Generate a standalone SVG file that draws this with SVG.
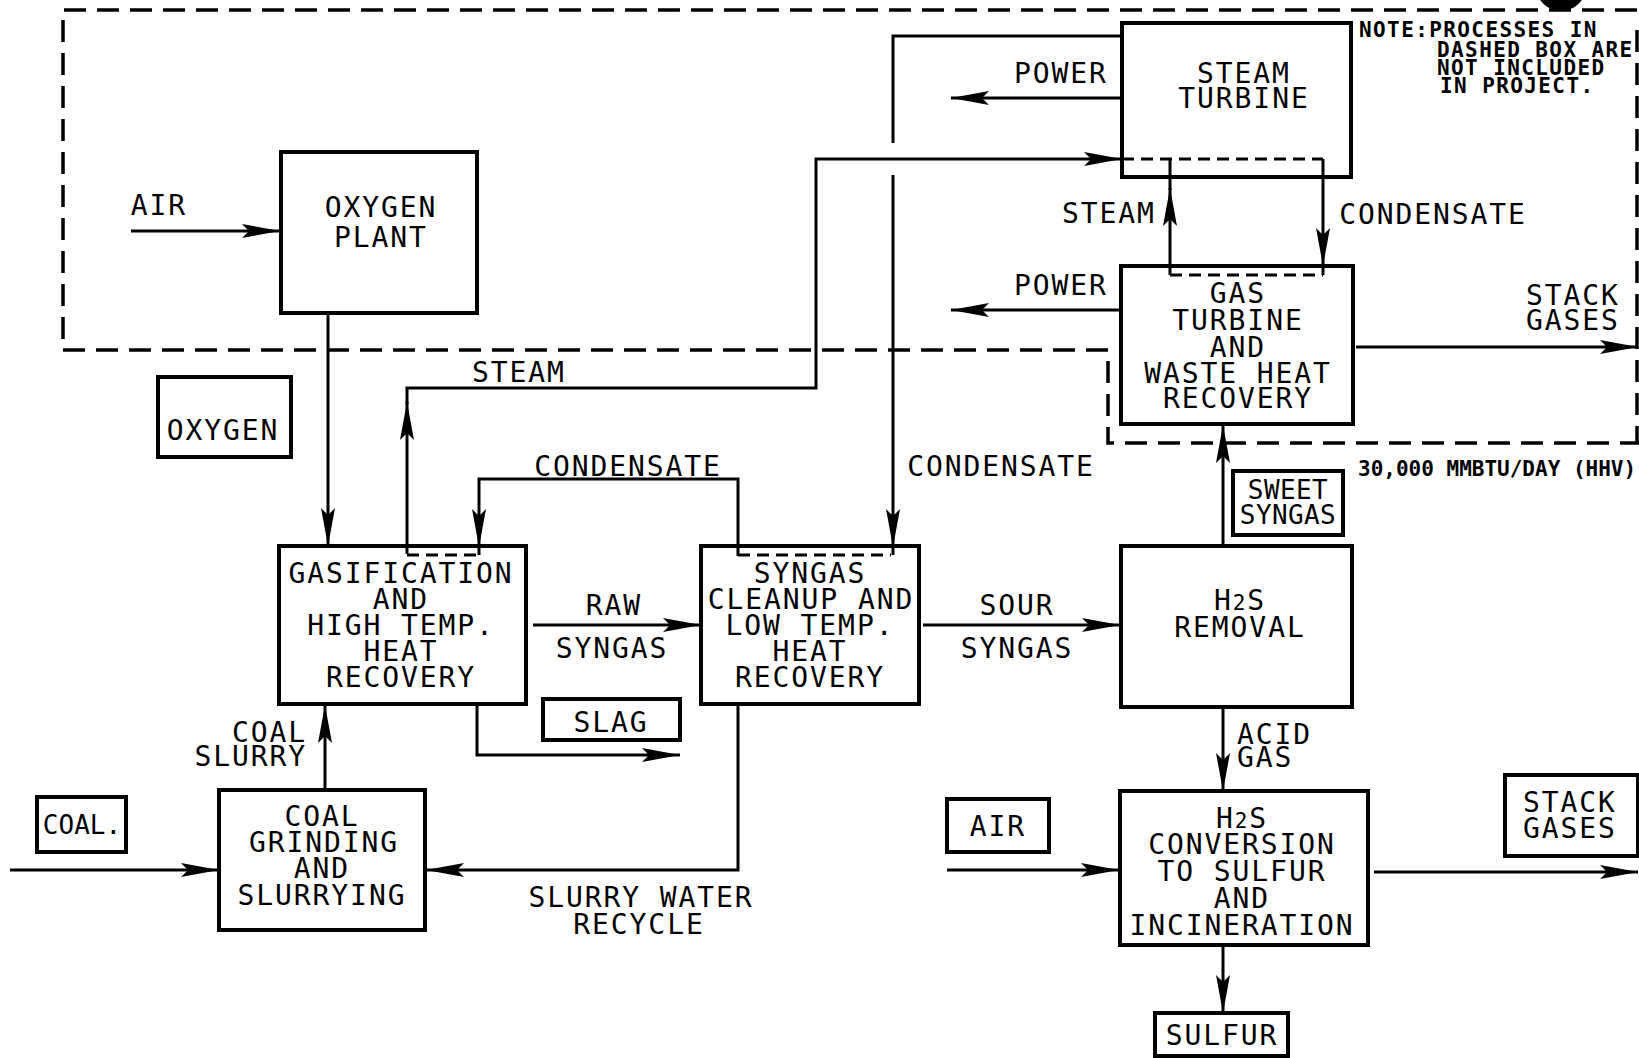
<svg xmlns="http://www.w3.org/2000/svg" width="1639" height="1058" viewBox="0 0 1639 1058">
<style>
  .box { fill: none; stroke: #000; stroke-width: 4; }
  .ln { fill: none; stroke: #000; stroke-width: 3; }
  .arr { fill: none; stroke: #000; stroke-width: 3; marker-end: url(#ah); }
  .outer { fill: none; stroke: #000; stroke-width: 3.5; stroke-dasharray: 22 11; }
  .inner { fill: none; stroke: #000; stroke-width: 3; stroke-dasharray: 12 7; }
  text { font-family: "DejaVu Sans Mono", "Liberation Mono", monospace; fill: #000; }
  .t { font-size: 28px; letter-spacing: 1.9px; text-anchor: middle; }
  .tl { font-size: 28px; letter-spacing: 1.9px; text-anchor: start; }
  .te { font-size: 28px; letter-spacing: 1.9px; text-anchor: end; }
  .s { font-size: 26px; letter-spacing: 0.4px; text-anchor: middle; }
  .note { font-size: 21px; font-weight: bold; letter-spacing: 1.4px; }
  .sub { font-size: 21px; }
</style>
<defs>
  <marker id="ah" markerUnits="userSpaceOnUse" markerWidth="40" markerHeight="16" refX="38" refY="7" orient="auto">
    <path d="M0,0 L38,7 L0,14 L7,7 Z" fill="#000"/>
  </marker>
</defs>
<rect width="1639" height="1058" fill="#fff"/>

<!-- dashed boundary -->
<g id="boundary">
  <path class="outer" d="M1637,10 H63 V350 H1108 V443 H1639"/>
  <path class="outer" d="M1637,30 V443"/>
  <circle cx="1561" cy="-14" r="25" fill="#000"/>
</g>

<!-- connectors -->
<g id="connectors">
  <path class="arr" d="M131,231 H280"/>
  <path class="arr" d="M328,313 V546"/>
  <path class="arr" d="M407,554 V402"/>
  <path class="arr" d="M407,404 V388 H816 V159 H1122"/>
  <path class="inner" d="M1122,159 H1323"/>
  <path class="ln" d="M1122,36 H893 V143"/>
  <path class="arr" d="M893,175 V547"/>
  <path class="ln" d="M893,545 V555"/>
  <path class="inner" d="M738,555 H891"/>
  <path class="arr" d="M738,556 V479 H479 V547"/>
  <path class="ln" d="M479,545 V555"/>
  <path class="inner" d="M407,555 H477"/>
  <path class="arr" d="M533,625 H701"/>
  <path class="arr" d="M477,704 V755 H680"/>
  <path class="arr" d="M325,790 V705"/>
  <path class="arr" d="M10,870 H219"/>
  <path class="arr" d="M738,704 V870 H426"/>
  <path class="arr" d="M923,625 H1120"/>
  <path class="arr" d="M1223,546 V425"/>
  <path class="arr" d="M1223,707 V791"/>
  <path class="arr" d="M1223,945 V1013"/>
  <path class="arr" d="M947,870 H1119"/>
  <path class="arr" d="M1374,872 H1638"/>
  <path class="arr" d="M1356,347 H1638"/>
  <path class="arr" d="M1122,98 H951"/>
  <path class="arr" d="M1121,310 H951"/>
  <path class="arr" d="M1170,275 V188"/>
  <path class="ln" d="M1170,190 V159"/>
  <path class="arr" d="M1323,159 V266"/>
  <path class="ln" d="M1323,264 V275"/>
  <path class="inner" d="M1170,275 H1323"/>
</g>

<!-- process nodes -->
<g id="oxygen-plant">
  <rect class="box" x="281" y="152" width="196" height="161"/>
  <text class="t" x="381" y="217">OXYGEN</text>
  <text class="t" x="381" y="247">PLANT</text>
</g>
<g id="steam-turbine">
  <rect class="box" x="1122" y="23" width="229" height="154"/>
  <text class="t" x="1244" y="83">STEAM</text>
  <text class="t" x="1244" y="108">TURBINE</text>
</g>
<g id="gas-turbine">
  <rect class="box" x="1121" y="266" width="232" height="158"/>
  <text class="t" x="1238" y="303">GAS</text>
  <text class="t" x="1238" y="330">TURBINE</text>
  <text class="t" x="1238" y="357">AND</text>
  <text class="t" x="1238" y="383">WASTE HEAT</text>
  <text class="t" x="1238" y="408">RECOVERY</text>
</g>
<g id="gasification">
  <rect class="box" x="279" y="546" width="247" height="158"/>
  <text class="t" x="401" y="583">GASIFICATION</text>
  <text class="t" x="401" y="609">AND</text>
  <text class="t" x="401" y="635">HIGH TEMP.</text>
  <text class="t" x="401" y="661">HEAT</text>
  <text class="t" x="401" y="687">RECOVERY</text>
</g>
<g id="syngas-cleanup">
  <rect class="box" x="701" y="546" width="218" height="158"/>
  <text class="t" x="810" y="583">SYNGAS</text>
  <text class="t" x="811" y="609">CLEANUP AND</text>
  <text class="t" x="810" y="635">LOW TEMP.</text>
  <text class="t" x="810" y="661">HEAT</text>
  <text class="t" x="810" y="687">RECOVERY</text>
</g>
<g id="h2s-removal">
  <rect class="box" x="1121" y="546" width="231" height="161"/>
  <text class="t" x="1240" y="610">H<tspan class="sub">2</tspan>S</text>
  <text class="t" x="1240" y="637">REMOVAL</text>
</g>
<g id="coal-grinding">
  <rect class="box" x="219" y="790" width="206" height="140"/>
  <text class="t" x="322" y="826">COAL</text>
  <text class="t" x="324" y="852">GRINDING</text>
  <text class="t" x="322" y="878">AND</text>
  <text class="t" x="322" y="905">SLURRYING</text>
</g>
<g id="h2s-conversion">
  <rect class="box" x="1120" y="791" width="248" height="154"/>
  <text class="t" x="1242" y="828">H<tspan class="sub">2</tspan>S</text>
  <text class="t" x="1242" y="854">CONVERSION</text>
  <text class="t" x="1242" y="881">TO SULFUR</text>
  <text class="t" x="1242" y="908">AND</text>
  <text class="t" x="1242" y="935">INCINERATION</text>
</g>

<!-- stream label boxes -->
<g id="label-oxygen">
  <rect class="box" x="158" y="377" width="133" height="80"/>
  <text class="t" x="223" y="440">OXYGEN</text>
</g>
<g id="label-slag">
  <rect class="box" x="543" y="699" width="137" height="41"/>
  <text class="t" x="611" y="732">SLAG</text>
</g>
<g id="label-coal">
  <rect class="box" x="37" y="797" width="89" height="55"/>
  <text class="t" x="82" y="834" style="font-size:26px;letter-spacing:0px">COAL.</text>
</g>
<g id="label-air">
  <rect class="box" x="947" y="799" width="102" height="53"/>
  <text class="t" x="998" y="836">AIR</text>
</g>
<g id="label-sweet-syngas">
  <rect class="box" x="1233" y="471" width="110" height="64"/>
  <text class="s" x="1288" y="499">SWEET</text>
  <text class="s" x="1288" y="524">SYNGAS</text>
</g>
<g id="label-stack-gases">
  <rect class="box" x="1505" y="775" width="133" height="81"/>
  <text class="t" x="1570" y="812">STACK</text>
  <text class="t" x="1570" y="838">GASES</text>
</g>
<g id="label-sulfur">
  <rect class="box" x="1155" y="1013" width="133" height="43"/>
  <text class="t" x="1222" y="1045">SULFUR</text>
</g>

<!-- connector labels -->
<g id="labels">
  <text class="t" x="159" y="215">AIR</text>
  <text class="t" x="519" y="382">STEAM</text>
  <text class="t" x="628" y="476">CONDENSATE</text>
  <text class="t" x="1001" y="476">CONDENSATE</text>
  <text class="t" x="1061" y="83">POWER</text>
  <text class="t" x="1061" y="295">POWER</text>
  <text class="t" x="1109" y="223">STEAM</text>
  <text class="t" x="1433" y="224">CONDENSATE</text>
  <text class="t" x="1573" y="305">STACK</text>
  <text class="t" x="1573" y="330">GASES</text>
  <text class="t" x="614" y="615">RAW</text>
  <text class="t" x="612" y="658">SYNGAS</text>
  <text class="t" x="1017" y="615">SOUR</text>
  <text class="t" x="1017" y="658">SYNGAS</text>
  <text class="te" x="307" y="742">COAL</text>
  <text class="te" x="307" y="766">SLURRY</text>
  <text class="t" x="641" y="907">SLURRY WATER</text>
  <text class="t" x="639" y="934">RECYCLE</text>
  <text class="tl" x="1237" y="744">ACID</text>
  <text class="tl" x="1237" y="767">GAS</text>
  <text class="note" x="1359" y="37">NOTE:PROCESSES IN</text>
  <text class="note" x="1437" y="57">DASHED BOX ARE</text>
  <text class="note" x="1437" y="75">NOT INCLUDED</text>
  <text class="note" x="1440" y="93">IN PROJECT.</text>
  <text class="note" x="1358" y="476" style="letter-spacing:0px">30,000 MMBTU/DAY (HHV)</text>
</g>
</svg>
